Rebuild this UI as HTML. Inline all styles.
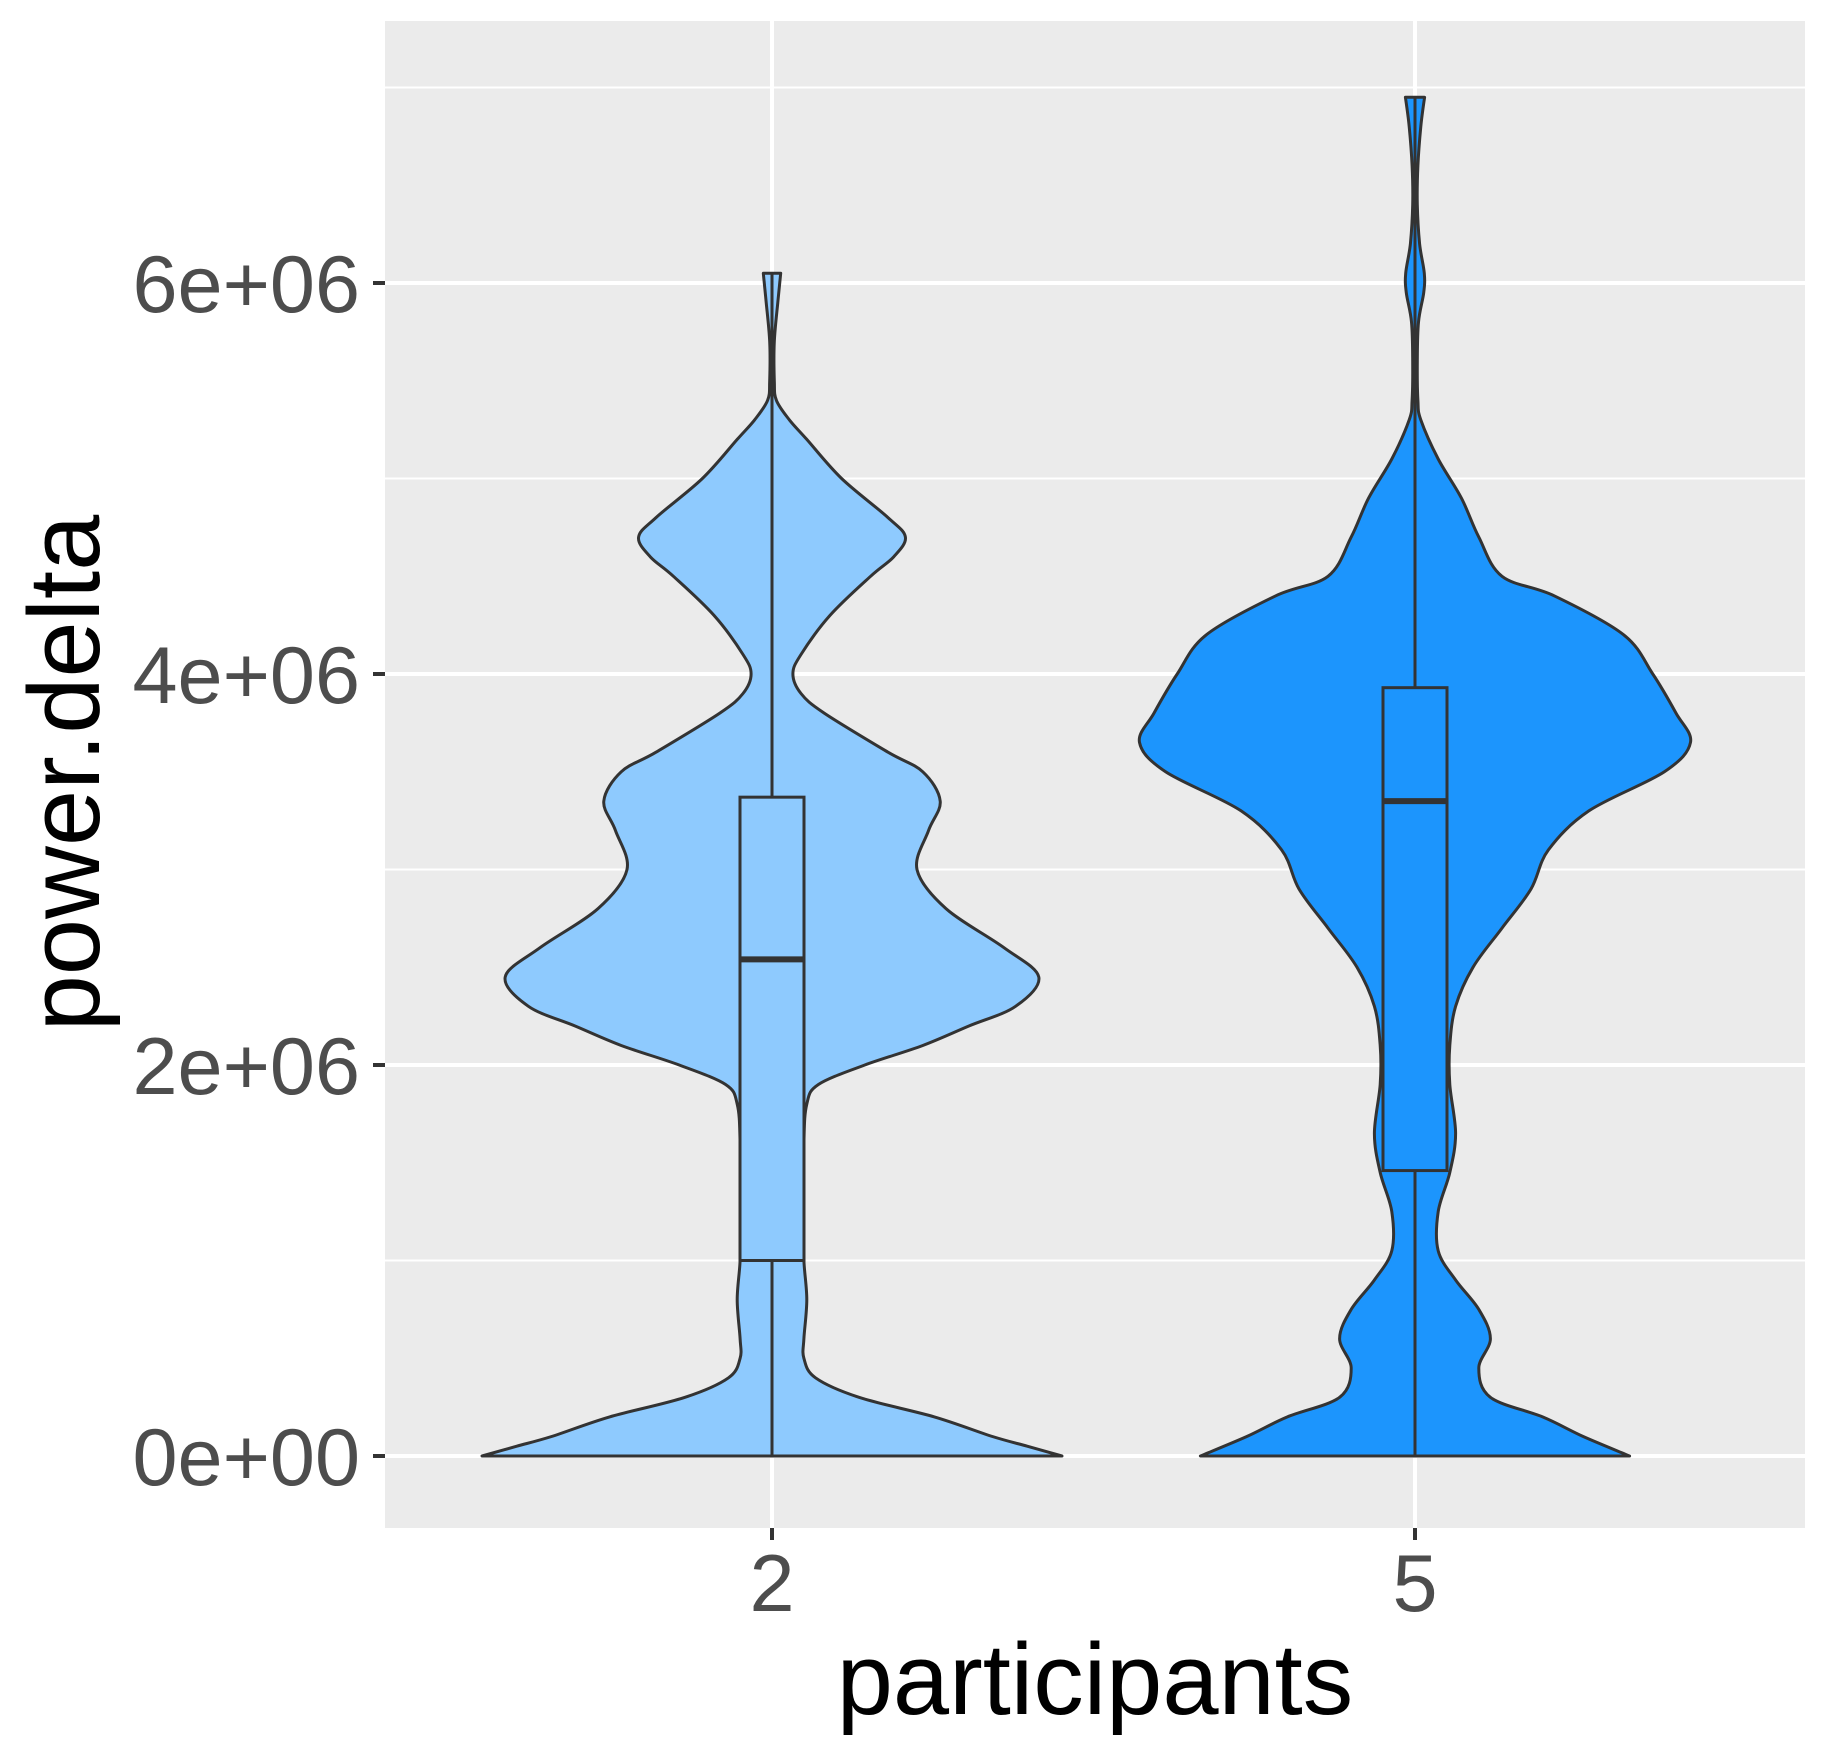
<!DOCTYPE html>
<html><head><meta charset="utf-8"><style>
html,body{margin:0;padding:0;background:#fff;}
svg{display:block;font-family:"Liberation Sans",sans-serif;}
</style></head><body>
<svg id="chart" width="1828" height="1762" viewBox="0 0 1828 1762">
<rect x="385" y="21" width="1420" height="1507" fill="#EBEBEB"/>
<g id="grid"></g>
<g id="marks"></g>
<g id="axes"></g>
<text x="1095" y="1714" font-size="101" text-anchor="middle" fill="#000">participants</text>
<text transform="translate(99,773) rotate(-90)" font-size="101" text-anchor="middle" fill="#000">power.delta</text>
</svg>
<script>
const categories = ["2", "5"];
const yTicks = [0, 2e6, 4e6, 6e6];
const yTickLabels = ["0e+00", "2e+06", "4e+06", "6e+06"];
const yMinor = [1e6, 3e6, 5e6, 7e6];
const violin2Y = [6.05,5.9,5.7,5.5,5.4,5.3,5.2,5.0,4.8,4.7,4.6,4.5,4.3,4.1,4.0,3.9,3.8,3.6,3.5,3.35,3.2,3.0,2.8,2.6,2.45,2.3,2.2,2.1,2.0,1.9,1.8,1.6,1.2,1.0,0.8,0.6,0.5,0.4,0.3,0.2,0.1,0.05,0];
const violin2D = [0.03,0.02,0.008,0.008,0.015,0.06,0.12,0.24,0.40,0.46,0.42,0.34,0.2,0.1,0.072,0.1,0.18,0.4,0.52,0.58,0.54,0.5,0.6,0.8,0.92,0.84,0.68,0.52,0.32,0.16,0.12,0.11,0.11,0.11,0.12,0.11,0.11,0.15,0.3,0.56,0.76,0.88,1.0];
const violin5Y = [6.95,6.8,6.6,6.4,6.2,6.05,5.95,5.8,5.6,5.4,5.3,5.1,4.9,4.7,4.5,4.4,4.2,4.0,3.8,3.65,3.5,3.3,3.1,2.9,2.7,2.5,2.3,2.1,1.9,1.65,1.45,1.25,1.05,0.9,0.75,0.6,0.45,0.3,0.2,0.1,0];
const violin5D = [0.033,0.02,0.01,0.008,0.016,0.032,0.03,0.012,0.008,0.01,0.02,0.08,0.16,0.22,0.3,0.48,0.72,0.82,0.9,0.95,0.86,0.6,0.46,0.4,0.3,0.2,0.14,0.12,0.12,0.14,0.12,0.08,0.08,0.14,0.22,0.26,0.22,0.26,0.44,0.58,0.74];
const boxQ1 = [1.0e6, 1.46e6];
const boxMedian = [2.54e6, 3.35e6];
const boxQ3 = [3.37e6, 3.93e6];
const whiskerLow = [0, 0];
const whiskerHigh = [6.05e6, 6.95e6];

const NS = "http://www.w3.org/2000/svg";
const yScale = v => 1456 - (v / 6e6) * (1456 - 283);
const xScale = i => [772, 1415][i];
const widthScale = d => d * 290;
const fills = ["#8ECAFE", "#1C95FD"];
function mk(tag, attrs, parent) {
  const e = document.createElementNS(NS, tag);
  for (const k in attrs) e.setAttribute(k, attrs[k]);
  parent.appendChild(e);
  return e;
}
function spline(pts) {
  let d = "";
  for (let i = 0; i < pts.length - 1; i++) {
    const p0 = pts[Math.max(0, i - 1)], p1 = pts[i], p2 = pts[i + 1], p3 = pts[Math.min(pts.length - 1, i + 2)];
    const c1 = [p1[0] + (p2[0] - p0[0]) / 6, p1[1] + (p2[1] - p0[1]) / 6];
    const c2 = [p2[0] - (p3[0] - p1[0]) / 6, p2[1] - (p3[1] - p1[1]) / 6];
    d += " C" + c1[0].toFixed(1) + "," + c1[1].toFixed(1) + " " + c2[0].toFixed(1) + "," + c2[1].toFixed(1) + " " + p2[0].toFixed(1) + "," + p2[1].toFixed(1);
  }
  return d;
}
const grid = document.getElementById("grid");
yMinor.forEach(v => {
  const l = mk("line", {x1: 385, x2: 1805, y1: yScale(v), y2: yScale(v), stroke: "#fff", "stroke-width": 2}, grid);
  
  
});
yTicks.forEach(v => {
  const l = mk("line", {x1: 385, x2: 1805, y1: yScale(v), y2: yScale(v), stroke: "#fff", "stroke-width": 4}, grid);
  
  
});
categories.forEach((c, i) => {
  const l = mk("line", {x1: xScale(i), x2: xScale(i), y1: 21, y2: 1528, stroke: "#fff", "stroke-width": 4}, grid);
  
  
});
const marks = document.getElementById("marks");
const ys = [violin2Y, violin5Y], ds = [violin2D, violin5D];
categories.forEach((c, i) => {
  const cx = xScale(i);
  const Y = ys[i], D = ds[i];
  const left = [], right = [];
  for (let k = 0; k < Y.length; k++) left.push([cx - widthScale(D[k]), yScale(Y[k] * 1e6)]);
  for (let k = Y.length - 1; k >= 0; k--) right.push([cx + widthScale(D[k]), yScale(Y[k] * 1e6)]);
  const d = "M" + left[0][0].toFixed(1) + "," + left[0][1].toFixed(1) + spline(left) +
            " L" + right[0][0].toFixed(1) + "," + right[0][1].toFixed(1) + spline(right) + " Z";
  const p = mk("path", {d: d, fill: fills[i], stroke: "#333", "stroke-width": 3, "stroke-linejoin": "round"}, marks);
  
  
  const w = mk("line", {x1: cx, x2: cx, y1: yScale(whiskerLow[i]), y2: yScale(whiskerHigh[i]), stroke: "#333", "stroke-width": 3}, marks);
  
  
  const b = mk("rect", {x: cx - 32, width: 64, y: yScale(boxQ3[i]), height: yScale(boxQ1[i]) - yScale(boxQ3[i]), fill: fills[i], stroke: "#333", "stroke-width": 3}, marks);
  
  
  const m = mk("line", {x1: cx - 32, x2: cx + 32, y1: yScale(boxMedian[i]), y2: yScale(boxMedian[i]), stroke: "#333", "stroke-width": 6}, marks);
  
  
});
const axes = document.getElementById("axes");
yTicks.forEach((v, k) => {
  const t = mk("line", {x1: 373, x2: 385, y1: yScale(v), y2: yScale(v), stroke: "#333", "stroke-width": 4}, axes);
  
  
  const tx = mk("text", {x: 360, y: yScale(v) + 29, "font-size": 81, "text-anchor": "end", fill: "#4D4D4D"}, axes);
  tx.textContent = yTickLabels[k];
  
  
});
categories.forEach((c, i) => {
  const t = mk("line", {x1: xScale(i), x2: xScale(i), y1: 1528, y2: 1540, stroke: "#333", "stroke-width": 4}, axes);
  
  
  const tx = mk("text", {x: xScale(i), y: 1611, "font-size": 81, "text-anchor": "middle", fill: "#4D4D4D"}, axes);
  tx.textContent = c;
  
  
});
</script>
</body></html>
